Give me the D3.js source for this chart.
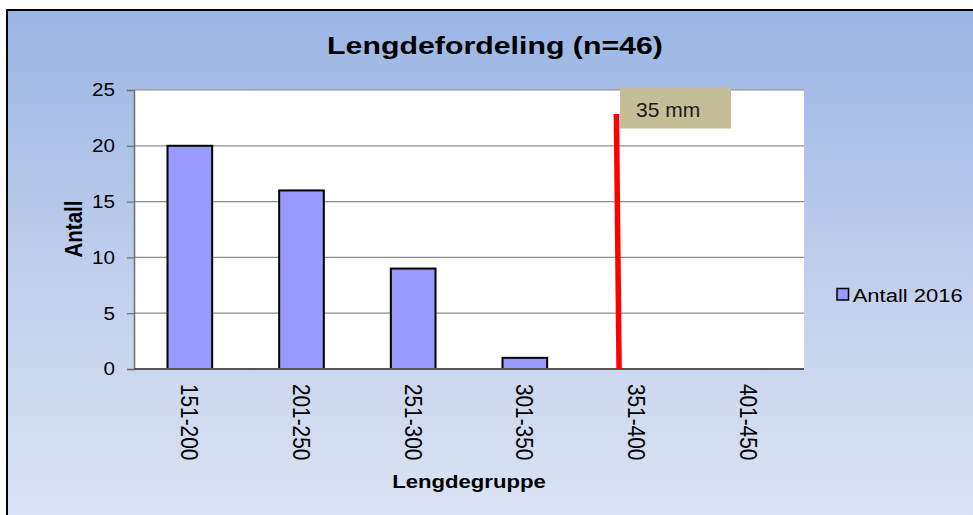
<!DOCTYPE html>
<html>
<head>
<meta charset="utf-8">
<script src="https://cdn.jsdelivr.net/npm/d3@7"></script>
<style>
  html, body { margin: 0; padding: 0; background: #ffffff; }
  svg { display: block; }
  text { font-family: "Liberation Sans", Arial, sans-serif; }
</style>
</head>
<body>
<script>
// ---- data ----
const categories = ["151-200", "201-250", "251-300", "301-350", "351-400", "401-450"];
const values = [20, 16, 9, 1, 0, 0];
const yTicks = [0, 5, 10, 15, 20, 25];
const seriesName = "Antall 2016";
const title = "Lengdefordeling (n=46)";
const yTitle = "Antall";
const xTitle = "Lengdegruppe";
const markerLabel = "35 mm";
const markerMm = [366, 367.2];      // x position of the marker line (mm) top / bottom
const markerVal = [22.85, 0];       // y extent of the marker line (count units)
const mmDomain = [150, 450];

// ---- layout ----
const W = 973, H = 515;
const plot = { left: 134, right: 804, top: 90, bottom: 369 };

const svg = d3.select("body").append("svg").attr("width", W).attr("height", H);

const defs = svg.append("defs");
const grad = defs.append("linearGradient").attr("id", "bg").attr("x1", 0).attr("y1", 0).attr("x2", 0).attr("y2", 1);
grad.append("stop").attr("offset", "0%").attr("stop-color", "#9bb5e4");
grad.append("stop").attr("offset", "55%").attr("stop-color", "#c3d1ed");
grad.append("stop").attr("offset", "100%").attr("stop-color", "#dde5f4");

// chart frame
svg.append("rect").attr("x", 7).attr("y", 10).attr("width", W + 10).attr("height", H + 10)
  .attr("fill", "url(#bg)").attr("stroke", "#000").attr("stroke-width", 2);

// plot area
svg.append("rect").attr("x", plot.left).attr("y", plot.top)
  .attr("width", plot.right - plot.left).attr("height", plot.bottom - plot.top)
  .attr("fill", "#ffffff");

const x = d3.scaleBand().domain(categories).range([plot.left, plot.right])
  .paddingInner(0.6).paddingOuter(0.3);
const xStep = (plot.right - plot.left) / categories.length;
const xMm = d3.scaleLinear().domain(mmDomain).range([plot.left, plot.right]);
const y = d3.scaleLinear().domain([0, 25]).range([plot.bottom, plot.top]);

// stretched text helper
function stext(parent, px, py, sx, rot, str) {
  const g = parent.append("g")
    .attr("transform", `translate(${px},${py}) scale(${sx},1)` + (rot ? ` rotate(${rot})` : ""));
  return g.append("text").attr("x", 0).attr("y", 0).text(str);
}

// gridlines
svg.append("g").selectAll("line").data(yTicks.filter(d => d > 0)).join("line")
  .attr("x1", plot.left).attr("x2", plot.right)
  .attr("y1", d => y(d)).attr("y2", d => y(d))
  .attr("stroke", "#8c8c8c").attr("stroke-width", 1.2);

// y axis
const yAxis = svg.append("g").attr("transform", `translate(${plot.left},0)`)
  .call(d3.axisLeft(y).tickValues(yTicks).tickSize(7).tickFormat(""));
yAxis.select(".domain").attr("stroke", "#6e6e6e").attr("stroke-width", 1.5);
yAxis.selectAll(".tick line").attr("stroke", "#6e6e6e").attr("stroke-width", 1.2);
yTicks.forEach(t => {
  stext(svg, 115, y(t) + 6.4, 1.17, 0, String(t))
    .attr("text-anchor", "end").attr("font-size", 17.7).attr("fill", "#000");
});

// bars
svg.append("g").selectAll("rect")
  .data(categories.map((c, i) => ({ c, v: values[i] })).filter(d => d.v > 0))
  .join("rect")
  .attr("x", d => x(d.c)).attr("width", x.bandwidth())
  .attr("y", d => y(d.v)).attr("height", d => y(0) - y(d.v))
  .attr("fill", "#9999ff").attr("stroke", "#000").attr("stroke-width", 2);

// x axis line
svg.append("line").attr("x1", plot.left).attr("x2", plot.right)
  .attr("y1", plot.bottom).attr("y2", plot.bottom)
  .attr("stroke", "#555").attr("stroke-width", 1.8);

// x tick labels (rotated)
categories.forEach(c => {
  const cx = x(c) + x.bandwidth() / 2;
  stext(svg, cx - 8.6, 384, 1.17, 90, c)
    .attr("text-anchor", "start").attr("font-size", 20.8).attr("fill", "#000");
});

// marker line + label
svg.append("line")
  .attr("x1", xMm(markerMm[0])).attr("y1", y(markerVal[0]))
  .attr("x2", xMm(markerMm[1])).attr("y2", y(markerVal[1]))
  .attr("stroke", "#ff0000").attr("stroke-width", 5.5);
svg.append("rect").attr("x", 620).attr("y", 87).attr("width", 111).attr("height", 41.5)
  .attr("fill", "#c4bd97");
stext(svg, 636, 117.3, 1.05, 0, markerLabel)
  .attr("font-size", 20).attr("fill", "#1a1a1a");

// title
stext(svg, 495, 54.3, 1.237, 0, title)
  .attr("text-anchor", "middle").attr("font-size", 24.5).attr("font-weight", "bold").attr("fill", "#000");

// y axis title
stext(svg, 81.5, 229, 1.17, -90, yTitle)
  .attr("text-anchor", "middle").attr("font-size", 20.5).attr("font-weight", "bold").attr("fill", "#000");

// x axis title
stext(svg, 469, 488.3, 1.19, 0, xTitle)
  .attr("text-anchor", "middle").attr("font-size", 18.6).attr("font-weight", "bold").attr("fill", "#000");

// legend
svg.append("rect").attr("x", 837).attr("y", 288.5).attr("width", 11.5).attr("height", 11.5)
  .attr("fill", "#9999ff").attr("stroke", "#000").attr("stroke-width", 1.5);
stext(svg, 852.7, 301.5, 1.157, 0, seriesName)
  .attr("font-size", 19).attr("fill", "#000");
</script>
</body>
</html>
